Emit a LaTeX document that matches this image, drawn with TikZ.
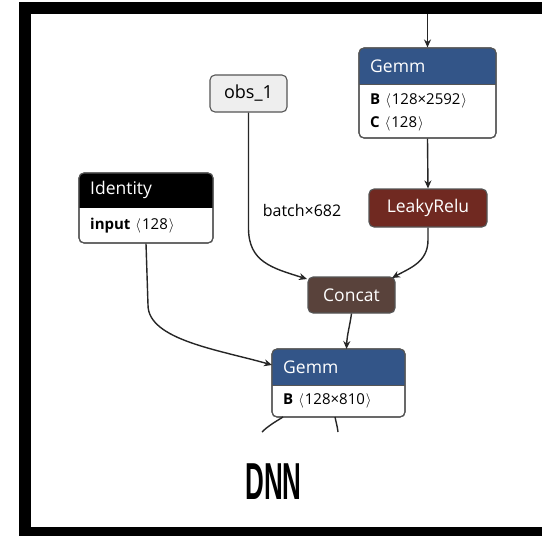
\documentclass[tikz,border=0pt]{standalone}
\usepackage{fontspec}
\setmainfont{Open Sans}
\newfontfamily\dnnfont{Liberation Sans}
\usetikzlibrary{arrows.meta}
\definecolor{gemmblue}{HTML}{335588}
\definecolor{relured}{HTML}{702921}
\definecolor{concatbrown}{HTML}{59423B}
\definecolor{inputgray}{HTML}{EEEEEE}
\definecolor{nodeborder}{HTML}{555555}
\tikzset{
  boxshape/.style={draw=nodeborder, line width=1.1pt, rounded corners=5pt, inner sep=0pt},
  opbox/.style={boxshape, text=white, font=\fontsize{17.5}{17.5}\selectfont},
  hdrtext/.style={anchor=west, text=white, inner sep=0pt, font=\fontsize{17.5}{17.5}\selectfont},
  attrtext/.style={anchor=west, inner sep=0pt, font=\fontsize{15}{15}\selectfont},
  edge/.style={draw=black!85, line width=1.4pt, -{Stealth[length=8pt,width=7pt]}},
  plainedge/.style={draw=black!85, line width=1.4pt},
  lbl/.style={inner sep=0pt, font=\fontsize{16}{16}\selectfont}
}
\newcommand{\la}{\hspace{5pt}\ensuremath{\langle}\hspace{1pt}}
\newcommand{\ra}{\hspace{1pt}\ensuremath{\rangle}}
\begin{document}
\begin{tikzpicture}[x=1pt,y=-1pt]
\useasboundingbox (0,0) rectangle (542,536);
\fill[white] (0,0) rectangle (542,536);
% frame
\fill[black] (19,2) rectangle (542,14);
\fill[black] (19,2) rectangle (31,536);
\fill[black] (19,527) rectangle (542,536);

% top Gemm
\node[boxshape, fill=white, minimum width=137pt, minimum height=90pt] (g1) at (427.5,93) {};
\begin{scope}
\clip[rounded corners=5pt] (359,48) rectangle (496,138);
\fill[gemmblue] (359,48) rectangle (496,84);
\end{scope}
\draw[nodeborder, line width=1.1pt, rounded corners=5pt] (359,48) rectangle (496,138);
\draw[nodeborder, line width=0.8pt] (359,84) -- (496,84);
\node[hdrtext] (g1t) at (370,66) {Gemm};
\node[attrtext] (g1a) at (370,101) {\textbf{B}\la128×2592\ra};
\node[attrtext] (g1b) at (370,124) {\textbf{C}\la128\ra};

% LeakyRelu
\node[opbox, fill=relured, minimum width=118pt, minimum height=38pt] (relu) at (428,208) {LeakyRelu};

% obs_1
\node[boxshape, fill=inputgray, minimum width=77pt, minimum height=37pt, font=\fontsize{18}{18}\selectfont] (obs) at (248.5,93.5) {obs\_1};

% Identity
\node[boxshape, fill=white, minimum width=134pt, minimum height=70pt] (ident) at (146,208) {};
\begin{scope}
\clip[rounded corners=5pt] (79,173) rectangle (213,243);
\fill[black] (79,173) rectangle (213,208);
\end{scope}
\draw[nodeborder, line width=1.1pt, rounded corners=5pt] (79,173) rectangle (213,243);
\node[hdrtext] (identt) at (90,190) {Identity};
\node[attrtext] (identa) at (90,226) {\textbf{input}\la128\ra};

% Concat
\node[opbox, fill=concatbrown, minimum width=87pt, minimum height=36pt] (concat) at (351.5,295) {Concat};

% bottom Gemm
\node[boxshape, fill=white, minimum width=133pt, minimum height=68pt] (g2) at (338.5,383) {};
\begin{scope}
\clip[rounded corners=5pt] (272,349) rectangle (405,417);
\fill[gemmblue] (272,349) rectangle (405,385);
\end{scope}
\draw[nodeborder, line width=1.1pt, rounded corners=5pt] (272,349) rectangle (405,417);
\draw[nodeborder, line width=0.8pt] (272,385) -- (405,385);
\node[hdrtext] (g2t) at (283,367) {Gemm};
\node[attrtext] (g2a) at (283,401) {\textbf{B}\la128×810\ra};

% edges
\coordinate (topin) at (427.5,14);
\draw[edge] (topin) -- (g1.north);
\draw[edge] (g1.south) -- (relu.north);
\draw[edge] (obs.south) -- (248.5,228) .. controls (248.5,262) and (272,268) .. (307,279);
\node[lbl] (batch) at (302,210) {batch×682};
\draw[edge] (relu.south) -- (428,240) .. controls (428,262) and (410,268) .. (392,278);
\draw[edge] (ident.south) -- (148,305) .. controls (148,340) and (220,350) .. (272,365);
\draw[edge] (concat.south) .. controls (350,325) and (347,335) .. (346.5,349);
\coordinate (outl) at (262,432);
\coordinate (outr) at (338,432);
\draw[plainedge] (283,417) .. controls (275,422) and (268,426) .. (outl);
\draw[plainedge] (335,417) .. controls (336,422) and (337.5,427) .. (outr);

% title
\node[inner sep=0pt] (title) at (273.5,482) {\scalebox{0.5}[1]{\dnnfont\bfseries\fontsize{52}{52}\selectfont DNN}};
\end{tikzpicture}
\end{document}
